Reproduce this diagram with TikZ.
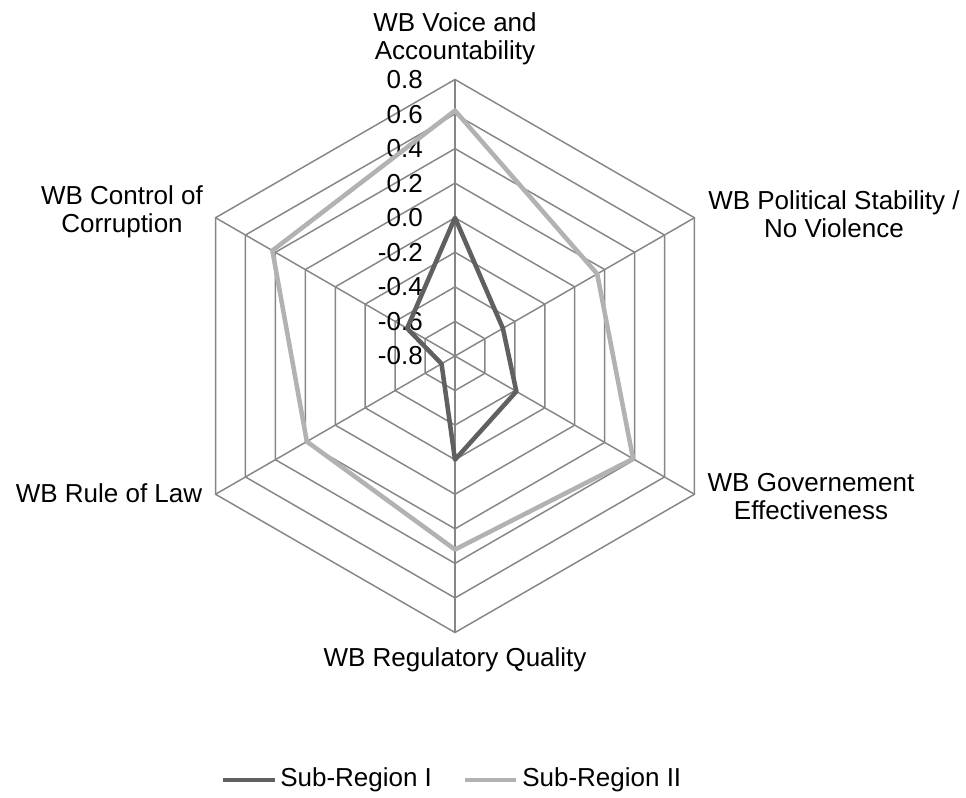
\documentclass[tikz,border=0pt]{standalone}
\usepackage{fontspec}
\setmainfont{Liberation Sans}
\usetikzlibrary{math}

\definecolor{gridgray}{RGB}{134,134,134}
\definecolor{regionone}{RGB}{96,96,96}
\definecolor{regiontwo}{RGB}{178,178,178}

\begin{document}
\begin{tikzpicture}[x=0.75pt,y=0.75pt,
  font=\fontsize{19.5}{21}\selectfont,
  grid/.style={draw=gridgray,line width=1.1pt},
  series/.style={line width=3.4pt,line join=round},
  label/.style={align=center,inner sep=0pt}]
  % 使用 tikzmath 计算
  \tikzmath{
    % 外圈半径与每格间距
    \R = 276.5;
    \s = \R/8;
  }
  \useasboundingbox (-455,-442) rectangle (511,356);

  % 绘制六边形网格
  \foreach \k in {1,...,8}
    \draw[grid] (90:{\k*\s}) -- (30:{\k*\s}) -- (-30:{\k*\s}) -- (-90:{\k*\s})
      -- (210:{\k*\s}) -- (150:{\k*\s}) -- cycle;
  % 绘制轴线
  \foreach \a in {90,30,-30,-90,210,150}
    \draw[grid] (0,0) -- (\a:\R);

  % 标注刻度
  \foreach \v [count=\i from 0] in {-0.8,-0.6,-0.4,-0.2,0.0,0.2,0.4,0.6,0.8}
    \node[anchor=east,inner sep=0pt] (tick\i) at (-32,{\i*\s}) {\v};

  % 标注各指标
  \node[label] (voice) at (0,317) {WB Voice and\\Accountability};
  \node[label] (political) at (379,142) {WB Political Stability /\\No Violence};
  \node[label] (govern) at (356,-141) {WB Governement\\Effectiveness};
  \node[label] (regulatory) at (0,-304) {WB Regulatory Quality};
  \node[label] (rulelaw) at (-346,-137) {WB Rule of Law};
  \node[label] (corruption) at (-333,144) {WB Control of\\Corruption};

  % 数据点, 角度从 90 开始每次减 60
  \foreach \v [count=\i] in {0.00,-0.48,-0.39,-0.20,-0.71,-0.48}
    \coordinate (one\i) at ({150-60*\i}:{(\v+0.8)*\R/1.6});
  \foreach \v [count=\i] in {0.62,0.15,0.39,0.32,0.19,0.42}
    \coordinate (two\i) at ({150-60*\i}:{(\v+0.8)*\R/1.6});

  % 绘制两条折线
  \draw[series,regionone] (one1) -- (one2) -- (one3) -- (one4) -- (one5) -- (one6) -- cycle;
  \draw[series,regiontwo] (two1) -- (two2) -- (two3) -- (two4) -- (two5) -- (two6) -- cycle;

  % 图例
  \coordinate (legonestart) at (-232,-424);
  \coordinate (legoneend) at (-180,-424);
  \node[anchor=west,inner sep=0pt] (legone) at (-175,-424) {Sub-Region I};
  \draw[series,regionone] (legonestart) -- (legoneend);
  \coordinate (legtwostart) at (10,-424);
  \coordinate (legtwoend) at (61,-424);
  \node[anchor=west,inner sep=0pt] (legtwo) at (67,-424) {Sub-Region II};
  \draw[series,regiontwo] (legtwostart) -- (legtwoend);
\end{tikzpicture}
\end{document}
